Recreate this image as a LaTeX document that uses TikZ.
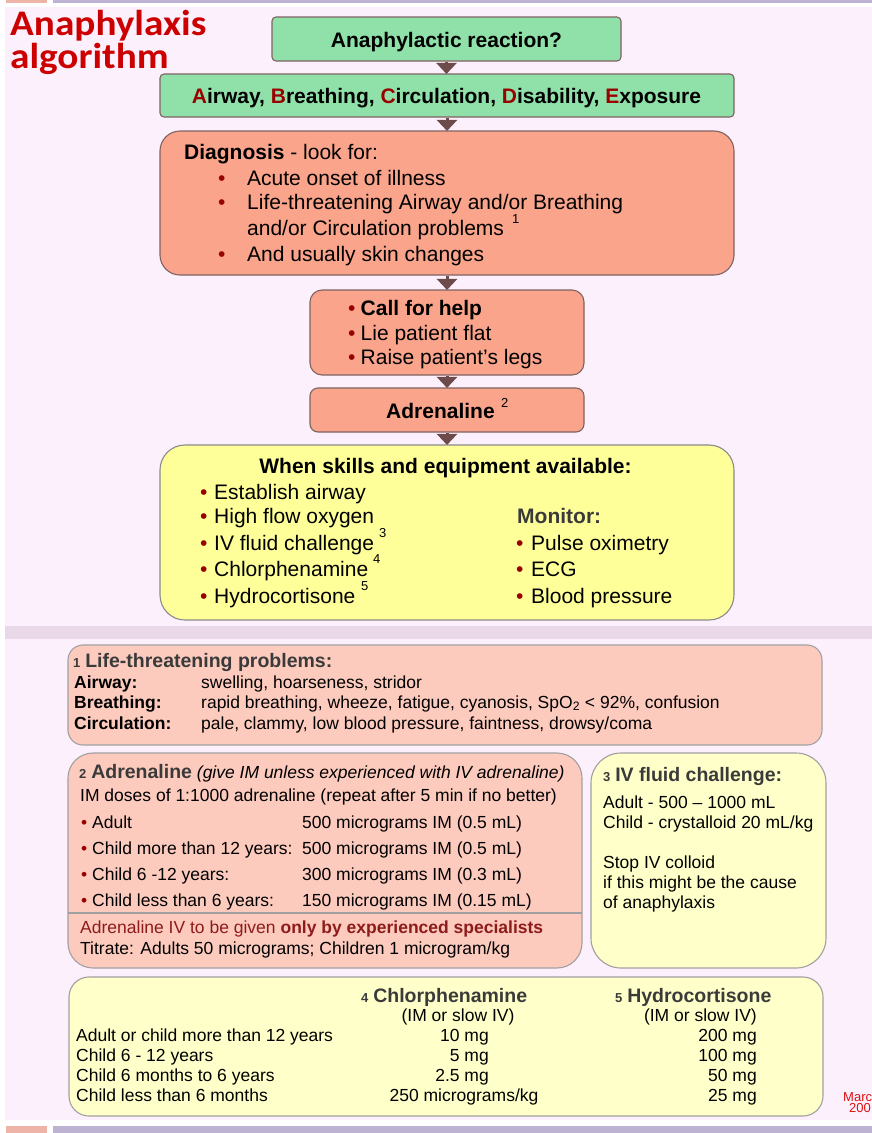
\documentclass[tikz,border=0pt]{standalone}
\usepackage{fontspec}
\setmainfont{Liberation Sans}
\newfontfamily\titlefont[FakeStretch=1.09]{Carlito}
\usetikzlibrary{arrows.meta}
\definecolor{panel}{HTML}{FCF0FC}
\definecolor{band}{HTML}{E8D8E8}
\definecolor{strippink}{HTML}{EEB4A8}
\definecolor{striplav}{HTML}{BEB2D2}
\definecolor{titlered}{HTML}{CC0000}
\definecolor{abcred}{HTML}{990000}
\definecolor{bulred}{HTML}{990000}
\definecolor{darkred}{HTML}{8E1B1B}
\definecolor{boxgreen}{HTML}{8FE1A9}
\definecolor{boxsalmon}{HTML}{F9A48B}
\definecolor{boxyellow}{HTML}{FFFF99}
\definecolor{boxpink}{HTML}{FDCBBE}
\definecolor{boxlyellow}{HTML}{FFFFCA}
\definecolor{bordbrown}{HTML}{7F6262}
\definecolor{bordgray}{HTML}{8A8A8A}
\definecolor{bordlight}{HTML}{A0A0A0}
\definecolor{arrowbrown}{HTML}{6E4B4B}
\definecolor{headgray}{HTML}{3A3A3A}
\definecolor{datered}{HTML}{DD1111}
\newcommand\fsz[1]{\fontsize{#1}{#1}\selectfont}
\tikzset{
  gbox/.style={draw=bordbrown, fill=boxgreen, line width=1.1pt, rounded corners=4pt, inner sep=0pt},
  sbox/.style={draw=bordbrown, fill=boxsalmon, line width=1.1pt, inner sep=0pt},
  ybox/.style={draw=bordgray, fill=boxyellow, line width=1.1pt, rounded corners=25pt, inner sep=0pt},
  pbox/.style={draw=bordlight, fill=boxpink, line width=1.1pt, inner sep=0pt},
  lybox/.style={draw=bordlight, fill=boxlyellow, line width=1.1pt, inner sep=0pt},
  arr/.style={draw=arrowbrown, line width=3pt, -{Triangle[width=20pt,length=11pt]}, shorten >=-0.5pt},
  t/.style={anchor=base west, inner sep=0pt},
  tc/.style={anchor=base, inner sep=0pt},
  te/.style={anchor=base east, inner sep=0pt},
  bu/.style={anchor=base west, inner sep=0pt, text=bulred},
  sup/.style={anchor=base west, inner sep=0pt, font=\fsz{13}},
}
\begin{document}
\begin{tikzpicture}[x=1pt,y=-1pt]
\useasboundingbox (0,0) rectangle (872,1133);
\fill[white] (0,0) rectangle (872,1133);
\fill[panel] (5,7) rectangle (872,1120);
\fill[strippink] (6,0) rectangle (47,3);
\fill[striplav] (53,0) rectangle (872,3);
\fill[strippink] (6,1126) rectangle (47,1133);
\fill[striplav] (53,1126) rectangle (872,1133);
\fill[band] (5,626) rectangle (872,639);

% title
\node[anchor=north west, inner sep=0pt, align=left, font=\titlefont\bfseries\fontsize{36}{33}\selectfont, text=titlered] (title) at (10,10.5) {Anaphylaxis\\algorithm};

% flow boxes
\node[gbox, minimum width=349pt, minimum height=44pt] (b1) at (446.5,39) {};
\node[gbox, minimum width=574pt, minimum height=43pt] (b2) at (447,95.5) {};
\node[sbox, rounded corners=20pt, minimum width=574pt, minimum height=144pt] (b3) at (447,203) {};
\node[sbox, rounded corners=12pt, minimum width=274pt, minimum height=85pt] (b4) at (447,332.5) {};
\node[sbox, rounded corners=8pt, minimum width=274pt, minimum height=44pt] (b5) at (447,410) {};
\node[ybox, minimum width=574pt, minimum height=175pt] (b6) at (447,532.5) {};

\draw[arr] (b1.south) -- (b1.south |- b2.north);
\draw[arr] (b2.south) -- (b3.north);
\draw[arr] (b3.south) -- (b4.north);
\draw[arr] (b4.south) -- (b5.north);
\draw[arr] (b5.south) -- (b6.north);

\begin{scope}[font=\fsz{21}]
\node[tc, font=\bfseries\fsz{21}] (t1) at (446.5,47.5) {Anaphylactic reaction?};
\node[tc, font=\bfseries\fsz{21}] (t2) at (446.5,103) {\textcolor{abcred}{A}irway, \textcolor{abcred}{B}reathing, \textcolor{abcred}{C}irculation, \textcolor{abcred}{D}isability, \textcolor{abcred}{E}xposure};
% diagnosis
\node[t] (d0) at (184,159) {\textbf{Diagnosis} - look for:};
\node[bu] (d1b) at (218,185) {\textbullet};
\node[t] (d1) at (247,185) {Acute onset of illness};
\node[bu] (d2b) at (218,209) {\textbullet};
\node[t] (d2) at (247,209) {Life-threatening Airway and/or Breathing};
\node[t] (d3) at (247,235) {and/or Circulation problems};
\node[sup] (d3s) at (512,223.5) {1};
\node[bu] (d4b) at (218,261) {\textbullet};
\node[t] (d4) at (247,261) {And usually skin changes};
% call for help
\node[bu] (c1b) at (348,315) {\textbullet};
\node[t] (c1) at (360.5,315) {\textbf{Call for help}};
\node[bu] (c2b) at (348,340) {\textbullet};
\node[t] (c2) at (360.5,340) {Lie patient flat};
\node[bu] (c3b) at (348,364) {\textbullet};
\node[t] (c3) at (360.5,364) {Raise patient’s legs};
% adrenaline
\node[t] (a1) at (386,418) {\textbf{Adrenaline}};
\node[sup] (a1s) at (501,407) {2};
% yellow box
\node[tc, font=\bfseries\fsz{21}] (y0) at (445.5,473) {When skills and equipment available:};
\node[bu] (y1b) at (200,499) {\textbullet};
\node[t] (y1) at (214,499) {Establish airway};
\node[bu] (y2b) at (200,523) {\textbullet};
\node[t] (y2) at (214,523) {High flow oxygen};
\node[bu] (y3b) at (200,550) {\textbullet};
\node[t] (y3) at (214,550) {IV fluid challenge};
\node[sup] (y3s) at (379,537) {3};
\node[bu] (y4b) at (200,576) {\textbullet};
\node[t] (y4) at (214,576) {Chlorphenamine};
\node[sup] (y4s) at (373,563) {4};
\node[bu] (y5b) at (200,603) {\textbullet};
\node[t] (y5) at (214,603) {Hydrocortisone};
\node[sup] (y5s) at (361,590) {5};
\node[t, text=headgray] (m0) at (517,523) {\textbf{Monitor:}};
\node[bu] (m1b) at (516,550) {\textbullet};
\node[t] (m1) at (531,550) {Pulse oximetry};
\node[bu] (m2b) at (516,576) {\textbullet};
\node[t] (m2) at (531,576) {ECG};
\node[bu] (m3b) at (516,603) {\textbullet};
\node[t] (m3) at (531,603) {Blood pressure};
\end{scope}

% footnote boxes
\node[pbox, rounded corners=15pt, minimum width=754pt, minimum height=100pt] (f1) at (445,695) {};
\node[pbox, rounded corners=25pt, minimum width=514pt, minimum height=215pt] (f2) at (325,860.5) {};
\node[lybox, rounded corners=30pt, minimum width=235pt, minimum height=215pt] (f3) at (708.5,860.5) {};
\node[lybox, rounded corners=20pt, minimum width=754pt, minimum height=139pt] (f45) at (446,1046.5) {};
\coordinate (sepl) at (68,913);
\coordinate (sepr) at (582,913);
\draw[draw=bordlight, line width=1.1pt] (sepl) -- (sepr);

\begin{scope}[font=\fsz{17.5}]
% box 1
\node[t, text=headgray] (g0) at (73,667) {\bfseries{\fsz{13}1} \fsz{19.5}Life-threatening problems:};
\node[t] (g1l) at (74,688) {\textbf{Airway:}};
\node[t] (g1) at (201,688) {swelling, hoarseness, stridor};
\node[t] (g2l) at (74,708) {\textbf{Breathing:}};
\node[t] (g2) at (201,708) {rapid breathing, wheeze, fatigue, cyanosis, SpO\textsubscript{2} < 92\%, confusion};
\node[t] (g3l) at (74,729) {\textbf{Circulation:}};
\node[t] (g3) at (201,729) {pale, clammy, low blood pressure, faintness, drowsy/coma};
% box 2
\node[t] (h0) at (79,778) {{\color{headgray}\bfseries{\fsz{13}2} \fsz{19.5}Adrenaline} \itshape(give IM unless experienced with IV adrenaline)};
\node[t] (h1) at (80,801) {IM doses of 1:1000 adrenaline (repeat after 5 min if no better)};
\node[bu] (h2b) at (81,828) {\textbullet};
\node[t] (h2) at (92,828) {Adult};
\node[t] (h2v) at (302,828) {500 micrograms IM (0.5 mL)};
\node[bu] (h3b) at (81,854) {\textbullet};
\node[t] (h3) at (92,854) {Child more than 12 years:};
\node[t] (h3v) at (302,854) {500 micrograms IM (0.5 mL)};
\node[bu] (h4b) at (81,880) {\textbullet};
\node[t] (h4) at (92,880) {Child 6 -12 years:};
\node[t] (h4v) at (302,880) {300 micrograms IM (0.3 mL)};
\node[bu] (h5b) at (81,906) {\textbullet};
\node[t] (h5) at (92,906) {Child less than 6 years:};
\node[t] (h5v) at (302,906) {150 micrograms IM (0.15 mL)};
\node[t, text=darkred] (h6) at (80,933) {Adrenaline IV to be given \textbf{only by experienced specialists}};
\node[t] (h7) at (80,954) {Titrate: Adults 50 micrograms; Children 1 microgram/kg};
% box 3
\node[t, text=headgray] (i0) at (603,781) {\bfseries{\fsz{13}3} \fsz{19.5}IV fluid challenge:};
\node[t] (i1) at (603,808) {Adult - 500 – 1000 mL};
\node[t] (i2) at (603,828) {Child - crystalloid 20 mL/kg};
\node[t] (i3) at (603,868) {Stop IV colloid};
\node[t] (i4) at (603,888) {if this might be the cause};
\node[t] (i5) at (603,908) {of anaphylaxis};
% box 4/5
\node[t, text=headgray] (k0) at (361,1002) {\bfseries{\fsz{13}4} \fsz{19.5}Chlorphenamine};
\node[t, text=headgray] (l0) at (615,1002) {\bfseries{\fsz{13}5} \fsz{19.5}Hydrocortisone};
\node[tc] (k1) at (458,1021) {(IM or slow IV)};
\node[te] (l1) at (757,1021) {(IM or slow IV)};
\node[t] (r1) at (76,1041) {Adult or child more than 12 years};
\node[t] (r2) at (76,1061) {Child 6 - 12 years};
\node[t] (r3) at (76,1081) {Child 6 months to 6 years};
\node[t] (r4) at (76,1101) {Child less than 6 months};
\node[te] (k2) at (489,1041) {10 mg};
\node[te] (k3) at (489,1061) {5 mg};
\node[te] (k4) at (489,1081) {2.5 mg};
\node[tc] (k5) at (464,1101) {250 micrograms/kg};
\node[te] (l2) at (757,1041) {200 mg};
\node[te] (l3) at (757,1061) {100 mg};
\node[te] (l4) at (757,1081) {50 mg};
\node[te] (l5) at (757,1101) {25 mg};
\end{scope}
\node[t, font=\fsz{13}, text=datered] (date1) at (843,1101) {Marc};
\node[t, font=\fsz{13}, text=datered] (date2) at (849,1112) {200};
\end{tikzpicture}
\end{document}
